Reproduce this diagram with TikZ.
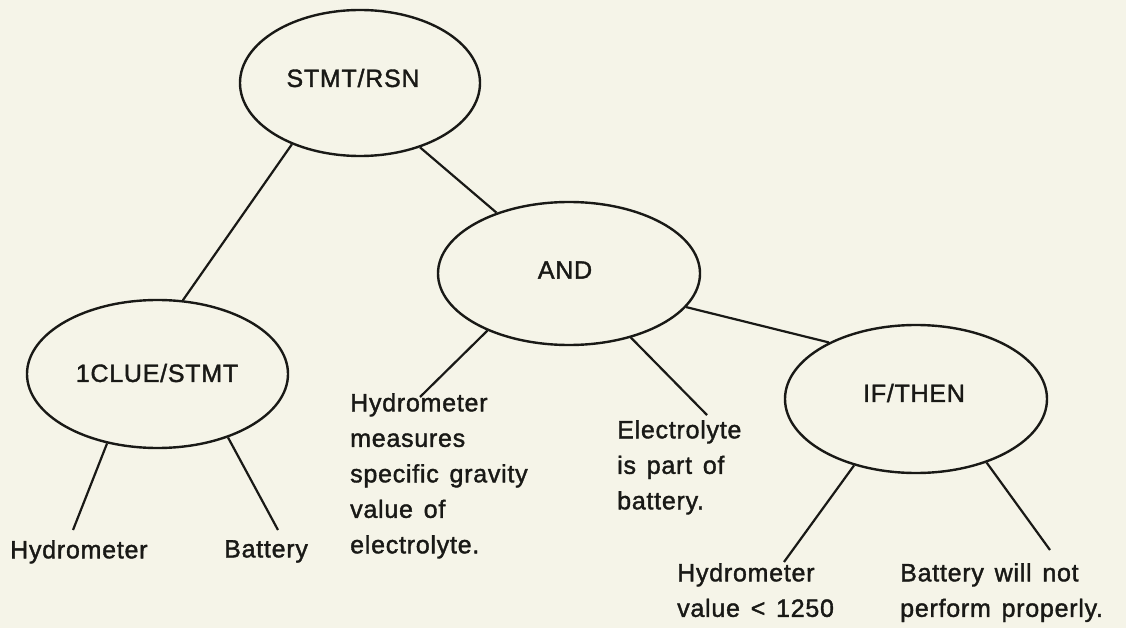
\documentclass[tikz,border=0pt]{standalone}
\usepackage{fontspec}
\setmainfont{Liberation Sans}[LetterSpace=3,WordSpace=1.4,FakeBold=1.5]
\usetikzlibrary{shapes.geometric}
\definecolor{paper}{RGB}{245,244,232}
\definecolor{ink}{RGB}{25,25,22}
\begin{document}
\begin{tikzpicture}[x=1pt,y=-1pt,
  oval/.style={ellipse,draw=ink,line width=2.4pt,inner sep=0pt},
  leaf/.style={anchor=north west,inner sep=0pt,align=left,text=ink,
    font=\fontsize{25}{35.5}\selectfont},
  lbl/.style={text=ink,font=\fontsize{25}{30}\selectfont},
  edge/.style={draw=ink,line width=2.2pt}]
\fill[paper] (0,0) rectangle (1126,628);
\useasboundingbox (0,0) rectangle (1126,628);
% ellipses
\node[oval,minimum width=240pt,minimum height=146pt] (stmt) at (360,83) {};
\node[oval,minimum width=262pt,minimum height=143pt] (and) at (569,273.5) {};
\node[oval,minimum width=261pt,minimum height=148pt] (clue) at (157.5,374) {};
\node[oval,minimum width=262pt,minimum height=148pt] (ifthen) at (916,399) {};
% labels
\node[lbl] (tstmt) at (353,78) {STMT/RSN};
\node[lbl] (tand) at (565,270) {AND};
\node[lbl] (tclue) at (157,373) {1CLUE/STMT};
\node[lbl] (tif) at (914,393) {IF/THEN};
% leaves
\node[leaf] (hyd) at (10,540) {Hydrometer};
\node[leaf] (bat) at (224,540) {Battery};
\node[leaf] (hms) at (350,393) {Hydrometer\\measures\\specific gravity\\value of\\electrolyte.};
\node[leaf] (ele) at (617,420) {Electrolyte\\is part of\\battery.};
\node[leaf] (hval) at (677,563) {Hydrometer\\value < 1250};
\node[leaf] (bwill) at (900,563) {Battery will not\\perform properly.};
% free ends
\coordinate (ehyd) at (73,530);
\coordinate (ebat) at (278,530);
\coordinate (ehms) at (420,397);
\coordinate (eele) at (707,415);
\coordinate (ehval) at (784,562);
\coordinate (ebwill) at (1050,550);
% connectors
\draw[edge] (stmt.222) -- (clue.71);
\draw[edge] (stmt.313) -- (and.140);
\draw[edge] (and.344) -- (ifthen.147);
\draw[edge] (and.215) -- (ehms);
\draw[edge] (and.314) -- (eele);
\draw[edge] (clue.234) -- (ehyd);
\draw[edge] (clue.318) -- (ebat);
\draw[edge] (ifthen.227) -- (ehval);
\draw[edge] (ifthen.318) -- (ebwill);
\end{tikzpicture}
\end{document}
